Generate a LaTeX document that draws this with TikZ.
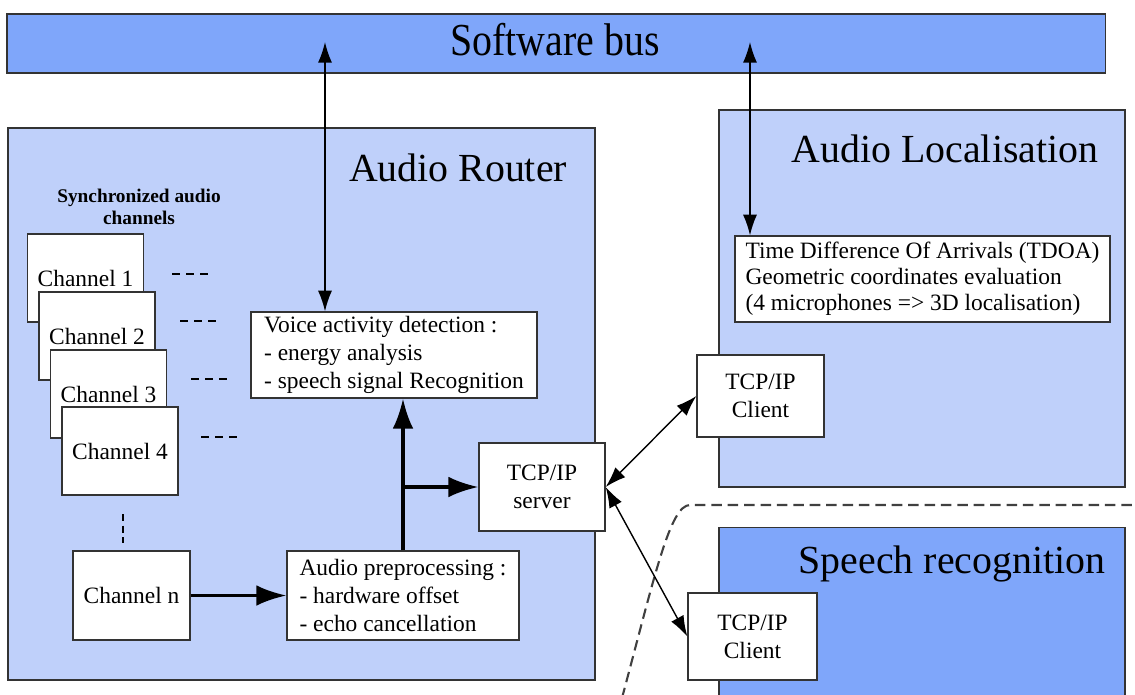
\documentclass[tikz,border=0pt]{standalone}
\usepackage{fontspec}
\setmainfont{Liberation Serif}
\usetikzlibrary{arrows.meta}
\definecolor{paleblue}{RGB}{191,208,250}
\definecolor{busblue}{RGB}{127,166,250}
\begin{document}
\begin{tikzpicture}[x=0.03cm,y=-0.03cm,
  panel/.style={draw=black!80,line width=0.9pt},
  box/.style={draw=black!80,fill=white,line width=1.1pt,inner sep=0pt,
    font=\fontsize{20}{24}\selectfont,align=center},
  title/.style={font=\fontsize{34}{40}\selectfont,anchor=base},
  dashrow/.style={dash pattern=on 7pt off 5pt,line width=1.5pt},
  thin arrow/.style={line width=1.2pt,
    {Latex[length=0.62cm,width=0.42cm]}-{Latex[length=0.62cm,width=0.42cm]}},
  thick arrow/.style={line width=2.8pt,-{Latex[length=0.9cm,width=0.62cm]}}]
\useasboundingbox (0,0) rectangle (1135,695);
\clip (0,0) rectangle (1135,695);
% panels
\node[panel,fill=busblue,minimum width=32.94cm,minimum height=1.77cm] (bus) at (556,43.5) {};
\node[title] (bustitle) at (555,55) {\scalebox{1}[1.15]{Software bus}};
\node[panel,fill=paleblue,minimum width=17.61cm,minimum height=16.56cm] (router) at (301.5,404) {};
\node[title] (routertitle) at (458,181) {Audio Router};
\node[panel,fill=paleblue,minimum width=12.18cm,minimum height=11.31cm] (loc) at (922,298.5) {};
\node[title] (loctitle) at (945,162) {Audio Localisation};
\node[panel,fill=busblue,minimum width=12.18cm,minimum height=5.31cm] (speech) at (922,616) {};
\node[title] (speechtitle) at (952,573) {Speech recognition};
% audio router
\node[font=\fontsize{16.5}{19}\selectfont\bfseries,align=center] (synclabel) at (139,207) {Synchronized audio\\channels};
\foreach \i/\cx/\cy in {1/85.5/278,2/97/336,3/108.5/394,4/120/451}
  \node[box,minimum width=3.48cm,minimum height=2.64cm] (ch\i) at (\cx,\cy) {Channel \i};
\foreach \dx/\dy in {172/274,180/321,191/379,201/437}
  \draw[dashrow] (\dx,\dy) -- ++(36,0);
\draw[dash pattern=on 6pt off 4pt,line width=1.5pt] (123,514) -- (123,543);
\node[box,minimum width=3.51cm,minimum height=2.67cm] (chn) at (131.5,595.5) {Channel n};
\node[box,align=left,minimum width=8.58cm,minimum height=2.58cm] (vad) at (394,355)
  {Voice activity detection :\\- energy analysis\\- speech signal Recognition};
\node[box,align=left,minimum width=6.96cm,minimum height=2.67cm] (prep) at (403,595.5)
  {Audio preprocessing :\\- hardware offset\\- echo cancellation};
\node[box,minimum width=3.78cm,minimum height=2.64cm] (server) at (542,487) {TCP/IP\\server};
% clients and localisation
\node[box,minimum width=3.81cm,minimum height=2.46cm] (client1) at (760.5,396) {TCP/IP\\Client};
\node[box,minimum width=3.87cm,minimum height=2.61cm] (client2) at (752.5,636.5) {TCP/IP\\Client};
\node[box,align=left,minimum width=11.25cm,minimum height=2.58cm,font=\fontsize{20}{22}\selectfont] (tdoa) at (922.5,279)
  {Time Difference Of Arrivals (TDOA)\\Geometric coordinates evaluation\\(4 microphones => 3D localisation)};
% separator
\draw[dash pattern=on 9pt off 5pt,line width=1.8pt,black!75] (622,698) .. controls (655,575) and (670,505) .. (690,505) -- (1140,505);
% connectors
\coordinate (busvad) at (325,42);
\coordinate (bustdoa) at (750,42);
\draw[thin arrow] (busvad) -- (busvad |- vad.north);
\draw[thin arrow] (bustdoa) -- (bustdoa |- tdoa.north);
\draw[thick arrow] (chn.east) -- (prep.west);
\draw[thick arrow] (prep.north) -- (prep.north |- vad.south);
\coordinate (split) at (prep.north |- server.west);
\draw[thick arrow] (split) -- (server.west);
\draw[thin arrow] (server.east) -- (client1.west);
\draw[thin arrow] (server.east) -- (client2.west);
\end{tikzpicture}
\end{document}
